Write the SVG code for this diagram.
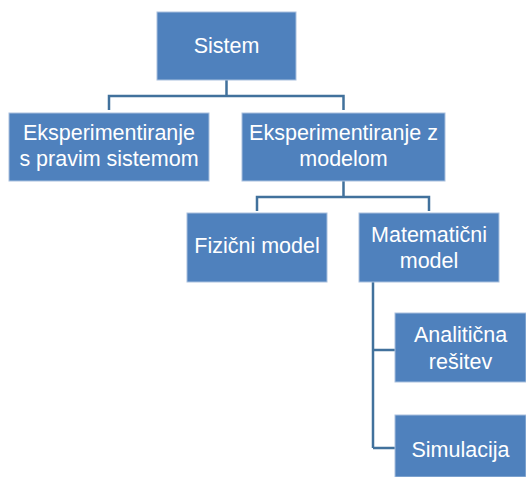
<svg xmlns="http://www.w3.org/2000/svg" width="526" height="477" viewBox="0 0 526 477">
  <style>
    .box { fill: #4F81BD; stroke: #A9C0DE; stroke-width: 1; }
    .lbl { fill: #FFFFFF; font-family: "Liberation Sans", Arial, sans-serif; font-size: 21.5px; text-anchor: middle; }
    .wire { fill: none; stroke: #41719C; stroke-width: 2.5; }
  </style>
  <rect width="526" height="477" fill="#FFFFFF"/>

  <g id="connectors">
    <path class="wire" d="M226.5,80 V96 M109,110 V96 H343.5 V110"/>
    <path class="wire" d="M343.5,181 V197 M257,211 V197 H429 V211"/>
    <path class="wire" d="M373,282 V448 M373,350 H395 M373,448 H395"/>
  </g>

  <g id="sistem">
    <rect class="box" x="157" y="12" width="139" height="68"/>
    <text class="lbl" x="226.5" y="53">Sistem</text>
  </g>

  <g id="eksp-pravi">
    <rect class="box" x="9" y="113" width="200" height="68"/>
    <text class="lbl" x="109" y="140">Eksperimentiranje</text>
    <text class="lbl" x="109" y="166">s pravim sistemom</text>
  </g>

  <g id="eksp-model">
    <rect class="box" x="242" y="113" width="203" height="68"/>
    <text class="lbl" x="343.5" y="140">Eksperimentiranje z</text>
    <text class="lbl" x="343.5" y="166">modelom</text>
  </g>

  <g id="fizicni">
    <rect class="box" x="187" y="213" width="140" height="69"/>
    <text class="lbl" x="257" y="253">Fizični model</text>
  </g>

  <g id="matematicni">
    <rect class="box" x="359" y="213" width="140" height="69"/>
    <text class="lbl" x="429" y="242">Matematični</text>
    <text class="lbl" x="429" y="268">model</text>
  </g>

  <g id="analiticna">
    <rect class="box" x="395" y="313" width="131" height="69"/>
    <text class="lbl" x="460.5" y="342">Analitična</text>
    <text class="lbl" x="460.5" y="369">rešitev</text>
  </g>

  <g id="simulacija">
    <rect class="box" x="395" y="415" width="131" height="62"/>
    <text class="lbl" x="460.5" y="457">Simulacija</text>
  </g>
</svg>
